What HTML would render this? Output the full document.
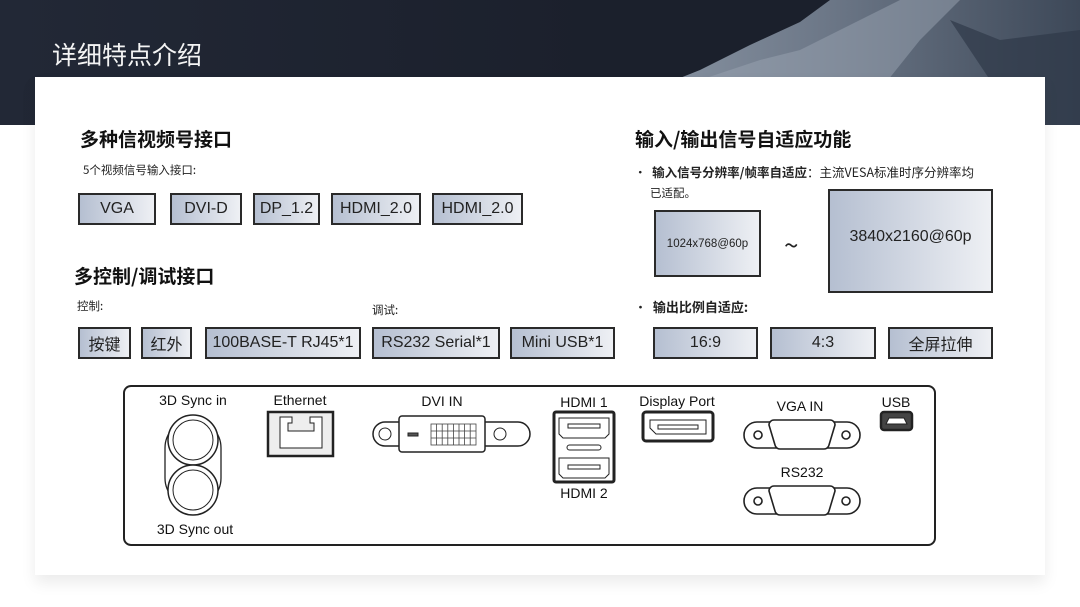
<!DOCTYPE html>
<html><head><meta charset="utf-8"><style>
*{margin:0;padding:0;box-sizing:border-box}
body{width:1080px;height:607px;position:relative;overflow:hidden;background:#fff;font-family:"Liberation Sans","Noto Sans CJK SC",sans-serif;color:#1a1a1a}
.band{position:absolute;left:0;top:0;width:1080px;height:125px;background:linear-gradient(90deg,#222836 0%,#1b202c 55%,#1b202c 100%)}
.title{position:absolute;left:52px;top:36px;color:#f4f4f4;font-size:25px;font-family:"Noto Sans CJK SC",sans-serif;font-weight:400}
.card{position:absolute;left:35px;top:77px;width:1010px;height:498px;background:#fff;box-shadow:0 8px 14px rgba(0,0,0,0.08)}
.h{position:absolute;font-family:"Noto Sans CJK SC",sans-serif;font-weight:700;font-size:19px;color:#111;white-space:nowrap}
.s{position:absolute;font-family:"Noto Sans CJK SC",sans-serif;font-size:11.5px;color:#222;white-space:nowrap}
.b{position:absolute;border:2px solid #2a2a2a;background:linear-gradient(90deg,#b5bfd1,#eef0f4);display:flex;align-items:center;justify-content:center;font-size:16px;color:#222;font-family:"Liberation Sans","Noto Sans CJK SC",sans-serif;white-space:nowrap}
</style></head><body>
<div class="band">
<svg width="1080" height="125" style="position:absolute;left:0;top:0">
<defs><linearGradient id="m" x1="0" y1="0" x2="1" y2="0"><stop offset="0" stop-color="#8893a2"/><stop offset="0.4" stop-color="#6d7888"/><stop offset="1" stop-color="#3d4858"/></linearGradient></defs>
<polygon points="650,90 700,70 750,45 800,22 830,0 1080,0 1080,125 650,125" fill="url(#m)"/>
<polygon points="700,80 760,60 800,50 860,20 900,0 960,0 920,40 880,90 820,125 700,125" fill="#9aa4b2" opacity="0.5"/>
<polygon points="950,20 1000,40 1080,30 1080,125 960,125 990,80" fill="#2f3948" opacity="0.7"/>
</svg>
</div>
<div class="title">详细特点介绍</div>
<div class="card"></div>

<div class="h" style="left:80px;top:125px">多种信视频号接口</div>
<div class="s" style="left:83px;top:162px">5个视频信号输入接口:</div>
<div class="b" style="left:78px;top:193px;width:78px;height:32px">VGA</div>
<div class="b" style="left:170px;top:193px;width:72px;height:32px">DVI-D</div>
<div class="b" style="left:253px;top:193px;width:67px;height:32px">DP_1.2</div>
<div class="b" style="left:331px;top:193px;width:90px;height:32px">HDMI_2.0</div>
<div class="b" style="left:432px;top:193px;width:91px;height:32px">HDMI_2.0</div>

<div class="h" style="left:74px;top:262px">多控制/调试接口</div>
<div class="s" style="left:77px;top:298px">控制:</div>
<div class="s" style="left:372px;top:302px">调试:</div>
<div class="b" style="left:78px;top:327px;width:53px;height:32px">按键</div>
<div class="b" style="left:141px;top:327px;width:51px;height:32px">红外</div>
<div class="b" style="left:205px;top:327px;width:156px;height:32px">100BASE-T RJ45*1</div>
<div class="b" style="left:372px;top:327px;width:128px;height:32px">RS232 Serial*1</div>
<div class="b" style="left:510px;top:327px;width:105px;height:32px">Mini USB*1</div>

<div class="h" style="left:635px;top:125px">输入/输出信号自适应功能</div>
<div class="s" style="left:634px;top:162px;font-size:12.5px">•&nbsp; <b>输入信号分辨率/帧率自适应</b>：主流VESA标准时序分辨率均</div>
<div class="s" style="left:650px;top:185px">已适配。</div>
<div class="b" style="left:654px;top:210px;width:107px;height:67px;font-size:11.5px">1024x768@60p</div>
<div class="s" style="left:784px;top:226px;font-size:26px">~</div>
<div class="b" style="left:828px;top:189px;width:165px;height:104px;font-size:16px;padding-bottom:8px">3840x2160@60p</div>
<div class="s" style="left:634px;top:297px;font-size:13px">•&nbsp; <b>输出比例自适应:</b></div>
<div class="b" style="left:653px;top:327px;width:105px;height:32px">16:9</div>
<div class="b" style="left:770px;top:327px;width:106px;height:32px">4:3</div>
<div class="b" style="left:888px;top:327px;width:105px;height:32px">全屏拉伸</div>

<svg width="1080" height="607" style="position:absolute;left:0;top:0" font-family="Liberation Sans, sans-serif" font-size="14" fill="none" stroke="#222">
<rect x="124" y="386" width="811" height="159" rx="7" stroke-width="2"/>
<g fill="#111" stroke="none" text-anchor="middle">
<text x="193" y="405">3D Sync in</text>
<text x="195" y="534">3D Sync out</text>
<text x="300" y="405">Ethernet</text>
<text x="442" y="406">DVI IN</text>
<text x="584" y="407">HDMI 1</text>
<text x="584" y="498">HDMI 2</text>
<text x="677" y="406">Display Port</text>
<text x="800" y="411">VGA IN</text>
<text x="802" y="477">RS232</text>
<text x="896" y="407">USB</text>
</g>
<rect x="165" y="420" width="56" height="86" rx="28" stroke-width="1.3"/>
<circle cx="193" cy="440" r="25" stroke-width="1.5" fill="#fff"/><circle cx="193" cy="440" r="20"/>
<circle cx="193" cy="490" r="25" stroke-width="1.5" fill="#fff"/><circle cx="193" cy="490" r="20"/>
<rect x="268" y="412" width="65" height="44" stroke-width="2.5" fill="#eee"/>
<path d="M280,417 h12 v6 h-4 v8 h26 v-8 h-4 v-6 h12 v31 h-42z" fill="#fff"/>
<path d="M385,422 h133 a12,12 0 0 1 0,24 h-133 a12,12 0 0 1 0,-24z" stroke-width="1.5"/>
<circle cx="385" cy="434" r="6"/><circle cx="500" cy="434" r="6"/>
<rect x="399" y="416" width="86" height="36" rx="3" stroke-width="1.5" fill="#fff"/>
<rect x="408" y="433" width="10" height="3" fill="#555"/>
<g stroke="#444" stroke-width="0.8" fill="#fff">
<rect x="431" y="424" width="45" height="21"/>
<path d="M431,431 h45 M431,438 h45 M436.6,424 v21 M442.2,424 v21 M447.8,424 v21 M453.4,424 v21 M459,424 v21 M464.6,424 v21 M470.2,424 v21"/>
</g>
<rect x="554" y="412" width="60" height="70" rx="2" stroke-width="3"/>
<path d="M559,418 h50 v16 l-4,4 h-42 l-4,-4z"/><rect x="568" y="424" width="32" height="4"/>
<rect x="567" y="445" width="34" height="5" rx="2.5"/>
<path d="M559,458 h50 v16 l-4,4 h-42 l-4,-4z"/><rect x="568" y="465" width="32" height="4"/>
<rect x="643" y="412" width="70" height="29" rx="3" stroke-width="3"/>
<path d="M650,420 h56 v14 h-50 l-6,-6z"/><rect x="658" y="425" width="40" height="4"/>
<g stroke-width="1.6">
<path d="M757,422 h90 a12,12 0 0 1 0,26 h-90 a12,12 0 0 1 0,-26z"/>
<circle cx="758" cy="435" r="4"/><circle cx="846" cy="435" r="4"/>
<path d="M774,420 h56 a5,5 0 0 1 5,5 l-6,20 a5,5 0 0 1 -5,4 h-44 a5,5 0 0 1 -5,-4 l-6,-20 a5,5 0 0 1 5,-5z" fill="#fff"/>
<path d="M757,488 h90 a12,12 0 0 1 0,26 h-90 a12,12 0 0 1 0,-26z"/>
<circle cx="758" cy="501" r="4"/><circle cx="846" cy="501" r="4"/>
<path d="M774,486 h56 a5,5 0 0 1 5,5 l-6,20 a5,5 0 0 1 -5,4 h-44 a5,5 0 0 1 -5,-4 l-6,-20 a5,5 0 0 1 5,-5z" fill="#fff"/>
</g>
<rect x="881" y="412" width="31" height="18" rx="3" stroke-width="2.5" fill="#444"/>
<path d="M886,424 l3,-6 h15 l3,6z" fill="#fff" stroke-width="1"/>
</svg>
</body></html>
